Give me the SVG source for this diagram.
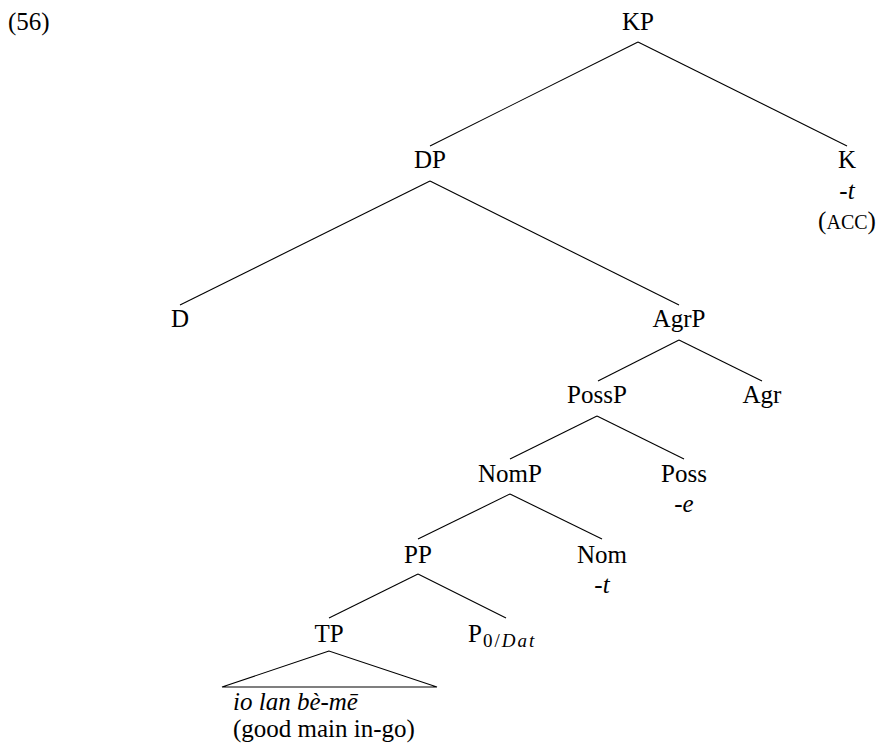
<svg xmlns="http://www.w3.org/2000/svg" width="880" height="747" viewBox="0 0 880 747">
<style>
text{font-family:'Liberation Serif','Times New Roman',Times,serif;font-size:25px;fill:#000}
.m{text-anchor:middle}
.i{font-style:italic}
.sc{font-size:20px}
.sub{font-size:19px}
line,polygon{stroke:#000;stroke-width:1.1;fill:none}
</style>
<rect width="880" height="747" fill="#fff"/>
<text id="exnum" x="8" y="30">(56)</text>
<g id="connectors">
<line x1="638" y1="42" x2="430" y2="146"/>
<line x1="638" y1="42" x2="847" y2="146"/>
<line x1="430" y1="181" x2="180" y2="305"/>
<line x1="430" y1="181" x2="679" y2="305"/>
<line x1="679" y1="340" x2="598" y2="381"/>
<line x1="679" y1="340" x2="762" y2="381"/>
<line x1="597" y1="416" x2="510" y2="459"/>
<line x1="597" y1="416" x2="684" y2="459"/>
<line x1="510" y1="494" x2="418" y2="539"/>
<line x1="510" y1="494" x2="602" y2="539"/>
<line x1="418" y1="574" x2="329" y2="618"/>
<line x1="418" y1="574" x2="506" y2="618"/>
</g>
<g id="KP"><text class="m" x="638" y="30">KP</text></g>
<g id="DP"><text class="m" x="430" y="168">DP</text></g>
<g id="K"><text class="m" x="847" y="168">K</text><text class="m i" x="847" y="199">-t</text><text class="m" x="847" y="229">(<tspan class="sc">ACC</tspan>)</text></g>
<g id="D"><text class="m" x="180" y="327">D</text></g>
<g id="AgrP"><text class="m" x="679" y="327">AgrP</text></g>
<g id="PossP"><text class="m" x="597" y="403">PossP</text></g>
<g id="Agr"><text class="m" x="762" y="403">Agr</text></g>
<g id="NomP"><text class="m" x="510" y="482">NomP</text></g>
<g id="Poss"><text class="m" x="684" y="482">Poss</text><text class="m i" x="684" y="512">-e</text></g>
<g id="PP"><text class="m" x="418" y="563">PP</text></g>
<g id="Nom"><text class="m" x="602" y="563">Nom</text><text class="m i" x="602" y="593">-t</text></g>
<g id="TP"><text class="m" x="329" y="642">TP</text>
<polygon points="329,651 222,687 437,687"/>
<text class="i" x="233" y="710">io lan bè-mē</text>
<text x="233" y="737">(good main in-go)</text></g>
<g id="P0Dat"><text x="468" y="642">P</text><text class="sub" x="483" y="647" letter-spacing="2">0/<tspan class="i">Dat</tspan></text></g>
</svg>
